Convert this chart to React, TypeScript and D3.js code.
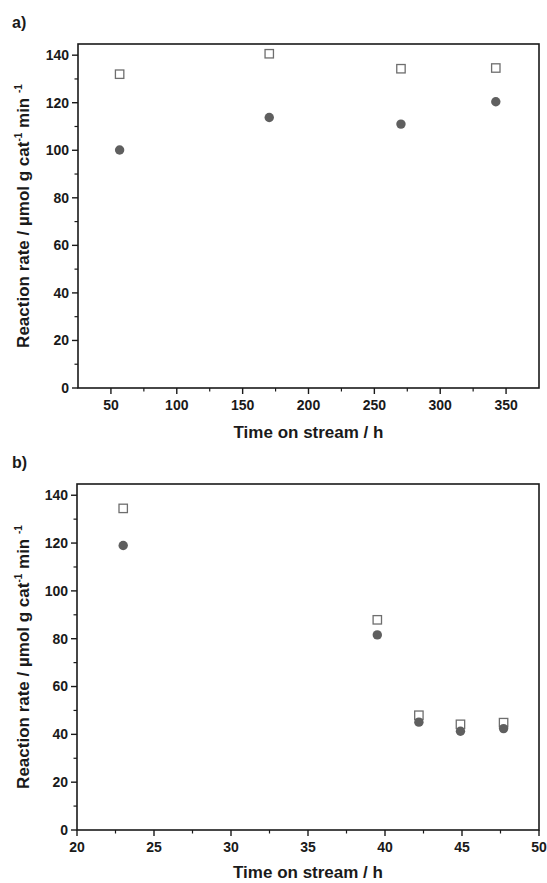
import React from 'react';
import * as d3 from 'd3';

// panel a) long run
const timeA = [56.6, 170.2, 270.2, 342.2];
const squaresA = [132, 140.6, 134.3, 134.6];
const circlesA = [100.1, 113.8, 111, 120.4];
const xTicksA = [50, 100, 150, 200, 250, 300, 350];

// panel b) short run
const timeB = [23, 39.5, 42.2, 44.9, 47.7];
const squaresB = [134.5, 87.9, 48, 44.2, 44.9];
const circlesB = [119, 81.6, 45.1, 41.3, 42.4];
const xTicksB = [20, 25, 30, 35, 40, 45, 50];

const yTicks = [0, 20, 40, 60, 80, 100, 120, 140];

const FONT = '"Liberation Sans", Arial, sans-serif';
const INK = '#1a1a1a';

type PanelProps = {
  tag: string;
  top: number;
  bottom: number;
  left: number;
  right: number;
  xDomain: [number, number];
  xTicks: number[];
  xMinorStep: number;
  titleGap: number;
  time: number[];
  squares: number[];
  circles: number[];
};

function Panel(props: PanelProps) {
  const { tag, top, bottom, left, right, xDomain, xTicks, xMinorStep, titleGap, time, squares, circles } = props;

  const x = d3.scaleLinear().domain(xDomain).range([left, right]);
  const y = d3.scaleLinear().domain([0, 144.7]).range([bottom, top]);

  const xMinor = d3.range(xTicks[0] - xMinorStep, xDomain[1], xMinorStep * 2)
    .filter((v) => v > xDomain[0] && v < xDomain[1]);
  const yMinor = d3.range(10, 144, 20);

  const cx = (left + right) / 2;
  const cy = (top + bottom) / 2;

  return (
    <g>
      <text x={12} y={top - 16} fontFamily={FONT} fontWeight="bold" fontSize={16} fill={INK}>
        {tag}
      </text>

      {/* frame */}
      <rect x={left} y={top} width={right - left} height={bottom - top}
        fill="none" stroke={INK} strokeWidth={1.6} />

      {/* y ticks */}
      {yTicks.map((t) => (
        <g key={'y' + t}>
          <line x1={left - 6} x2={left} y1={y(t)} y2={y(t)} stroke={INK} strokeWidth={1.4} />
          <text x={left - 9} y={y(t)} dy="0.35em" textAnchor="end"
            fontFamily={FONT} fontWeight="bold" fontSize={14} fill={INK}>{t}</text>
        </g>
      ))}
      {yMinor.map((t) => (
        <line key={'ym' + t} x1={left - 3.5} x2={left} y1={y(t)} y2={y(t)} stroke={INK} strokeWidth={1.2} />
      ))}

      {/* x ticks */}
      {xTicks.map((t) => (
        <g key={'x' + t}>
          <line x1={x(t)} x2={x(t)} y1={bottom} y2={bottom + 6} stroke={INK} strokeWidth={1.4} />
          <text x={x(t)} y={bottom + 22} textAnchor="middle"
            fontFamily={FONT} fontWeight="bold" fontSize={14} fill={INK}>{t}</text>
        </g>
      ))}
      {xMinor.map((t) => (
        <line key={'xm' + t} x1={x(t)} x2={x(t)} y1={bottom} y2={bottom + 3.5} stroke={INK} strokeWidth={1.2} />
      ))}

      {/* axis titles */}
      <text x={cx} y={bottom + titleGap} textAnchor="middle"
        fontFamily={FONT} fontWeight="bold" fontSize={17} fill={INK}>
        Time on stream / h
      </text>
      <text transform={`translate(29,${cy}) rotate(-90)`} textAnchor="middle"
        fontFamily={FONT} fontWeight="bold" fontSize={17} fill={INK}>
        Reaction rate / µmol g cat
        <tspan fontSize={10} dy={-7}>-1</tspan>
        <tspan dy={7}> min </tspan>
        <tspan fontSize={10} dy={-7}>-1</tspan>
      </text>

      {/* data */}
      {time.map((t, i) => (
        <rect key={'s' + i} x={x(t) - 4.2} y={y(squares[i]) - 4.2} width={8.4} height={8.4}
          fill="#fff" stroke="#6e6e6e" strokeWidth={1.3} />
      ))}
      {time.map((t, i) => (
        <circle key={'c' + i} cx={x(t)} cy={y(circles[i])} r={4.7} fill="#5f5f5f" />
      ))}
    </g>
  );
}

export default function App() {
  return (
    <svg width={547} height={883} style={{ position: 'absolute', left: 0, top: 0, background: '#fff' }}>
      <Panel tag="a)" top={44} bottom={388} left={78} right={539}
        xDomain={[25, 375]} xTicks={xTicksA} xMinorStep={25} titleGap={50}
        time={timeA} squares={squaresA} circles={circlesA} />
      <Panel tag="b)" top={484} bottom={830} left={77} right={539}
        xDomain={[20, 50]} xTicks={xTicksB} xMinorStep={2.5} titleGap={48}
        time={timeB} squares={squaresB} circles={circlesB} />
    </svg>
  );
}
